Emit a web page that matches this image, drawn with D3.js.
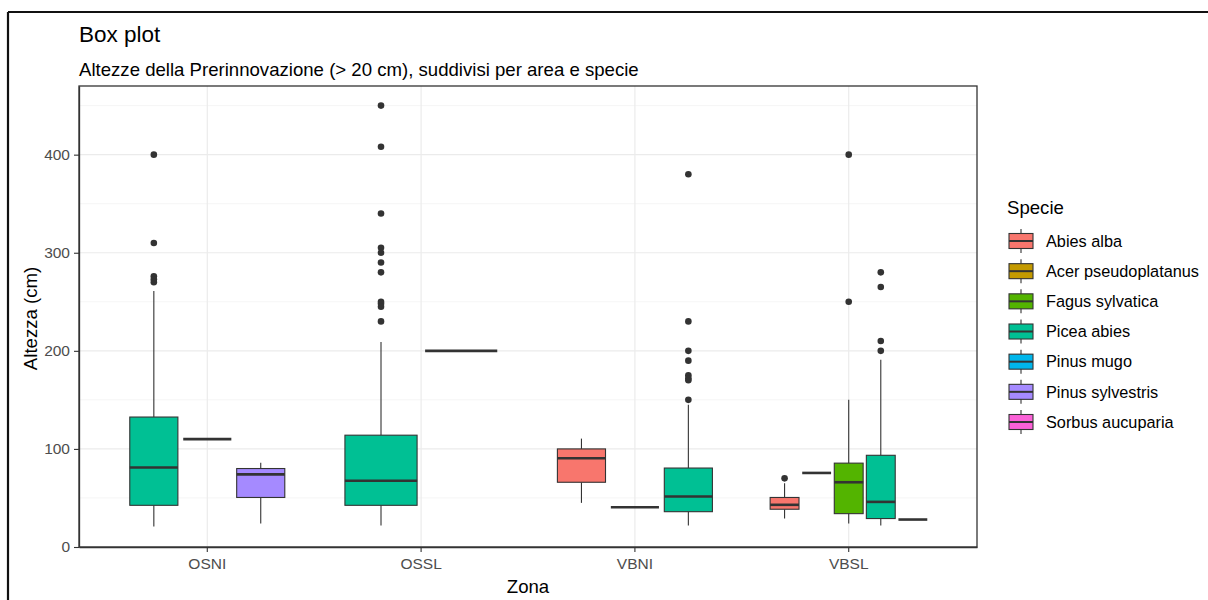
<!DOCTYPE html>
<html>
<head>
<meta charset="utf-8">
<script src="https://cdn.jsdelivr.net/npm/d3@7"></script>
<style>
  html, body { margin: 0; padding: 0; background: #fff; }
  svg { display: block; font-family: "Liberation Sans", Arial, sans-serif; }
</style>
</head>
<body>
<svg id="chart" width="1208" height="600"></svg>
<script>
// ---------- data ----------
const zones = ["OSNI", "OSSL", "VBNI", "VBSL"];
const species = ["Abies alba", "Acer pseudoplatanus", "Fagus sylvatica", "Picea abies",
                 "Pinus mugo", "Pinus sylvestris", "Sorbus aucuparia"];
const speciesColors = ["#F8766D", "#C49A00", "#53B400", "#00C094", "#00B6EB", "#A58AFF", "#FB61D7"];
const yTicks = [0, 100, 200, 300, 400];
const yMinorTicks = [50, 150, 250, 350, 450];

const boxZone    = ["OSNI", "OSNI", "OSNI", "OSSL", "OSSL", "VBNI", "VBNI", "VBNI", "VBSL", "VBSL", "VBSL", "VBSL", "VBSL"];
const boxSpecies = ["Picea abies", "Pinus mugo", "Pinus sylvestris", "Picea abies", "Pinus sylvestris",
                    "Abies alba", "Acer pseudoplatanus", "Picea abies",
                    "Abies alba", "Acer pseudoplatanus", "Fagus sylvatica", "Picea abies", "Sorbus aucuparia"];
const whiskerLow  = [21, 110, 24, 22, 200, 45, 40.5, 22, 29, 75.5, 24, 22, 28];
const quart1      = [42.5, 110, 50.5, 42.5, 200, 66, 40.5, 36, 38.5, 75.5, 34, 29, 28];
const medians     = [81, 110, 74, 67.5, 200, 90.5, 40.5, 51.5, 43, 75.5, 66, 46, 28];
const quart3      = [132.5, 110, 80, 114, 200, 100, 40.5, 80.5, 50.5, 75.5, 85.5, 93.5, 28];
const whiskerHigh = [261, 110, 86, 209, 200, 110.5, 40.5, 145, 65, 75.5, 150, 191, 28];
const outliers = [
  [400, 310, 276, 273, 270],
  [],
  [],
  [450, 408, 340, 305, 300, 290, 280, 250, 248, 245, 230],
  [],
  [],
  [],
  [380, 230, 200, 190, 175, 172, 170, 150],
  [70],
  [],
  [400, 250],
  [280, 265, 210, 200],
  []
];

// ---------- layout ----------
const svg = d3.select("#chart");
const panel = { left: 79, right: 977, top: 86, bottom: 547 };

const x = d3.scaleBand().domain(zones)
  .range([panel.left, panel.right])
  .paddingInner(0.25).paddingOuter(0.225);
const y = d3.scaleLinear().domain([0, 470]).range([panel.bottom, panel.top]);
const color = d3.scaleOrdinal().domain(species).range(speciesColors);

// outer frame (top & left edge of screenshot)
svg.append("line").attr("x1", 8).attr("x2", 1208).attr("y1", 12).attr("y2", 12)
  .attr("stroke", "#111").attr("stroke-width", 2.2);
svg.append("line").attr("x1", 8).attr("x2", 8).attr("y1", 12).attr("y2", 600)
  .attr("stroke", "#111").attr("stroke-width", 2.2);

// grid
const grid = svg.append("g");
grid.selectAll(".minor").data(yMinorTicks).join("line")
  .attr("x1", panel.left).attr("x2", panel.right)
  .attr("y1", d => y(d)).attr("y2", d => y(d))
  .attr("stroke", "#F2F2F2").attr("stroke-width", 0.8);
grid.selectAll(".major").data(yTicks).join("line")
  .attr("x1", panel.left).attr("x2", panel.right)
  .attr("y1", d => y(d)).attr("y2", d => y(d))
  .attr("stroke", "#EBEBEB").attr("stroke-width", 1.2);
grid.selectAll(".vmajor").data(zones).join("line")
  .attr("x1", d => x(d) + x.bandwidth() / 2).attr("x2", d => x(d) + x.bandwidth() / 2)
  .attr("y1", panel.top).attr("y2", panel.bottom)
  .attr("stroke", "#EBEBEB").attr("stroke-width", 1.2);

// boxes
const boxes = boxZone.map((z, i) => ({
  zone: z, sp: boxSpecies[i], lo: whiskerLow[i], q1: quart1[i], med: medians[i],
  q3: quart3[i], hi: whiskerHigh[i], out: outliers[i]
}));
const ink = "#333333";
const gBoxes = svg.append("g");
zones.forEach(z => {
  const inZone = boxes.filter(b => b.zone === z)
    .sort((a, b) => species.indexOf(a.sp) - species.indexOf(b.sp));
  const sub = d3.scaleBand().domain(inZone.map(b => b.sp))
    .range([x(z), x(z) + x.bandwidth()])
    .paddingInner(0.1).paddingOuter(0.05);
  inZone.forEach(b => {
    const x0 = sub(b.sp), w = sub.bandwidth(), cx = x0 + w / 2;
    const g = gBoxes.append("g");
    g.append("line").attr("x1", cx).attr("x2", cx).attr("y1", y(b.hi)).attr("y2", y(b.q3))
      .attr("stroke", ink).attr("stroke-width", 1.1);
    g.append("line").attr("x1", cx).attr("x2", cx).attr("y1", y(b.q1)).attr("y2", y(b.lo))
      .attr("stroke", ink).attr("stroke-width", 1.1);
    g.append("rect").attr("x", x0).attr("width", w)
      .attr("y", y(b.q3)).attr("height", y(b.q1) - y(b.q3))
      .attr("fill", color(b.sp)).attr("stroke", ink).attr("stroke-width", 1.1);
    g.append("line").attr("x1", x0).attr("x2", x0 + w).attr("y1", y(b.med)).attr("y2", y(b.med))
      .attr("stroke", ink).attr("stroke-width", 2.6);
    g.selectAll("circle").data(b.out).join("circle")
      .attr("cx", cx).attr("cy", d => y(d)).attr("r", 3.3).attr("fill", ink);
  });
});

// panel border
svg.append("rect").attr("x", panel.left).attr("y", panel.top)
  .attr("width", panel.right - panel.left).attr("height", panel.bottom - panel.top)
  .attr("fill", "none").attr("stroke", "#333").attr("stroke-width", 1.3);

// axes
const yAxis = svg.append("g").attr("transform", `translate(${panel.left},0)`)
  .call(d3.axisLeft(y).tickValues(yTicks).tickSizeInner(5).tickSizeOuter(0).tickPadding(4));
const xAxis = svg.append("g").attr("transform", `translate(0,${panel.bottom})`)
  .call(d3.axisBottom(x).tickSizeInner(5).tickSizeOuter(0).tickPadding(6));
[yAxis, xAxis].forEach(a => {
  a.select(".domain").attr("stroke", "#333").attr("stroke-width", 1.3);
  a.selectAll(".tick line").attr("stroke", "#333").attr("stroke-width", 1.1);
  a.selectAll(".tick text").attr("fill", "#4D4D4D")
    .style("font-size", "15.5px").style("font-family", "'Liberation Sans', Arial, sans-serif");
});

// titles
svg.append("text").attr("x", 79).attr("y", 42).text("Box plot")
  .style("font-size", "22.5px").attr("fill", "#000");
svg.append("text").attr("x", 79).attr("y", 76)
  .text("Altezze della Prerinnovazione (> 20 cm), suddivisi per area e specie")
  .style("font-size", "18.6px").attr("fill", "#000");
svg.append("text").attr("x", (panel.left + panel.right) / 2).attr("y", 593)
  .attr("text-anchor", "middle").text("Zona").style("font-size", "18.6px");
svg.append("text").attr("transform", `translate(37,${(panel.top + panel.bottom) / 2 + 2}) rotate(-90)`)
  .attr("text-anchor", "middle").text("Altezza (cm)").style("font-size", "18.6px");

// legend
const leg = svg.append("g");
leg.append("text").attr("x", 1007).attr("y", 214).text("Specie").style("font-size", "18.6px");
const rowY = d3.scalePoint().domain(species).range([241, 422]);
species.forEach(s => {
  const cy = rowY(s);
  const g = leg.append("g");
  g.append("line").attr("x1", 1021).attr("x2", 1021).attr("y1", cy - 12).attr("y2", cy + 12)
    .attr("stroke", ink).attr("stroke-width", 1.1);
  g.append("rect").attr("x", 1009).attr("y", cy - 7.5).attr("width", 24).attr("height", 15)
    .attr("fill", color(s)).attr("stroke", ink).attr("stroke-width", 1.1);
  g.append("line").attr("x1", 1009).attr("x2", 1033).attr("y1", cy).attr("y2", cy)
    .attr("stroke", ink).attr("stroke-width", 2);
  g.append("text").attr("x", 1046).attr("y", cy).attr("dy", "0.35em").text(s)
    .style("font-size", "16.3px");
});
</script>
</body>
</html>
